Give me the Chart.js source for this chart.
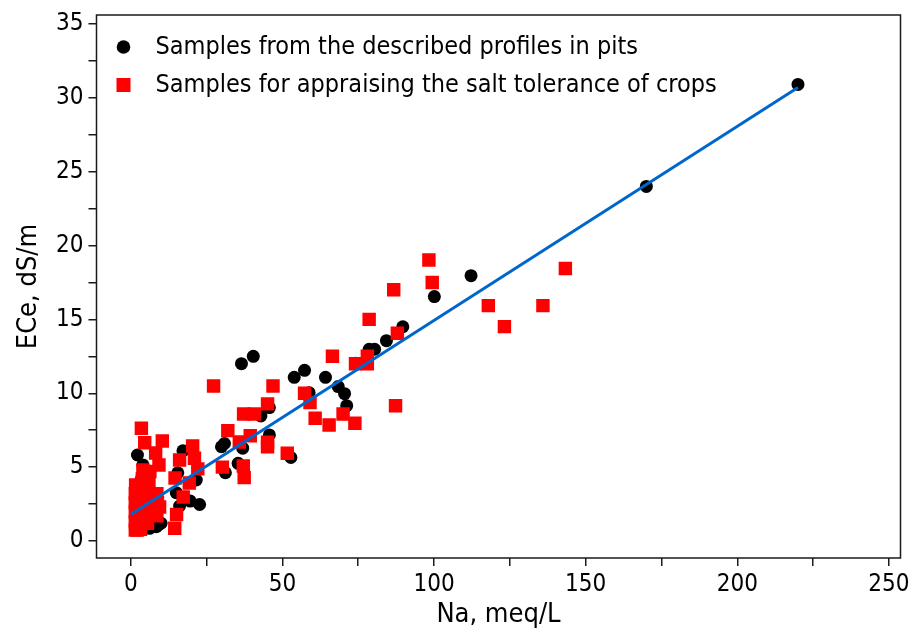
<!DOCTYPE html>
<html>
<head>
<meta charset="utf-8">
<script src="https://cdn.jsdelivr.net/npm/chart.js@4.4.1/dist/chart.umd.min.js"></script>
<style>
  html, body { margin: 0; padding: 0; background: #fff; overflow: hidden; }
  #wrap { position: absolute; left: 0; top: 0; width: 910px; height: 629px; }
</style>
</head>
<body>
<div id="wrap"><canvas id="naChart"></canvas></div>
<script>
// Datos: Na (meq/L) frente a ECe (dS/m)
var pitsNa = [
  220, 170, 112.2, 100.1, 89.7, 84.3, 78.6, 80.4, 74.1, 40.4, 36.5, 57.3,
  53.9, 64.2, 68.4, 70.5, 71.2, 58.8, 45.7, 42.9, 45.7, 30.9, 29.9, 36.9,
  35.4, 52.8, 31.2, 2.2, 17.2, 21.6, 15.5, 15.0, 19.6, 22.7, 16.1, 9.0,
  4.0, 4.0, 6.2, 8.4, 10.0, 2.5, 5.0, 3.5, 7.0, 1.5, 6.0, 8.0,
];
var pitsECe = [
  30.9, 24.0, 17.96, 16.54, 14.5, 13.56, 12.98, 12.98, 12.03, 12.5, 12.0, 11.55,
  11.08, 11.08, 10.45, 9.97, 9.16, 10.04, 9.03, 8.46, 7.18, 6.6, 6.38, 6.28,
  5.26, 5.65, 4.62, 5.82, 6.11, 4.13, 4.62, 3.27, 2.7, 2.47, 2.37, 1.08,
  0.97, 5.15, 0.86, 0.97, 1.2, 3.0, 2.0, 4.2, 1.5, 1.5, 3.5, 2.5,
];

var cropsNa = [
  143.3, 117.9, 135.9, 123.2, 98.3, 99.4, 86.7, 78.6, 87.9, 66.5, 74.1, 78.0,
  78.0, 27.3, 46.9, 57.3, 59.1, 45.1, 87.3, 37.2, 40.7, 60.8, 70.0, 65.4,
  73.9, 32.0, 39.4, 35.8, 45.1, 45.1, 51.6, 37.1, 37.4, 30.2, 3.5, 10.4,
  4.6, 8.2, 20.4, 16.1, 21.0, 22.1, 9.3, 14.6, 19.3, 17.3, 15.1, 14.5,
  9.5, 1.5, 1.5, 1.5, 1.5, 1.5, 1.6, 3.2, 3.5, 3.4, 3.6, 3.8,
  4.0, 5.5, 5.6, 5.8, 6.0, 6.3, 7.2, 7.5, 8.6, 8.8, 8.6, 2.2,
];
var cropsECe = [
  18.44, 15.93, 15.93, 14.51, 19.02, 17.49, 17.0, 15.0, 14.06, 12.5, 12.0, 12.5,
  12.0, 10.49, 10.49, 10.0, 9.37, 9.28, 9.16, 8.6, 8.6, 8.31, 8.6, 7.85,
  7.97, 7.47, 7.13, 6.7, 6.68, 6.38, 5.94, 5.08, 4.29, 5.0, 7.63, 6.77,
  6.65, 5.96, 6.43, 5.48, 5.6, 4.88, 5.15, 4.27, 3.93, 2.98, 1.8, 0.86,
  2.3, 0.75, 1.3, 2.0, 2.6, 3.2, 3.8, 0.8, 1.6, 2.4, 3.3, 4.2,
  4.8, 1.2, 2.1, 3.0, 3.9, 4.7, 1.9, 2.8, 1.7, 2.6, 3.2, 0.75,
];

// Recta de ajuste
var fitNa = [0, 220];
var fitECe = [1.8, 30.7];

var naTicks = [0, 25, 50, 75, 100, 125, 150, 175, 200, 225, 250];
var naLabels = [0, 50, 100, 150, 200, 250];
var eceTicks = [0, 2.5, 5, 7.5, 10, 12.5, 15, 17.5, 20, 22.5, 25, 27.5, 30, 32.5, 35];
var eceLabels = [0, 5, 10, 15, 20, 25, 30, 35];

var FONT = '"DejaVu Sans Condensed", "DejaVu Sans", sans-serif';

function toPoints(xs, ys) {
  return xs.map(function (x, i) {
    return { x: x, y: ys[i] };
  });
}

// Marco alrededor del área del gráfico
var frameBox = {
  id: "frameBox",
  afterDraw: function (chart) {
    var a = chart.chartArea;
    var ctx = chart.ctx;
    ctx.save();
    ctx.strokeStyle = "#1a1a1a";
    ctx.lineWidth = 1.5;
    ctx.strokeRect(a.left, a.top, a.right - a.left, a.bottom - a.top);
    ctx.restore();
  },
};

// Leyenda dentro del área, como en la figura original
var innerLegend = {
  id: "innerLegend",
  afterDraw: function (chart) {
    var a = chart.chartArea;
    var ctx = chart.ctx;
    var y = a.top + 32;
    var items = chart.data.datasets
      .filter(function (ds) {
        return ds.legendRank;
      })
      .sort(function (p, q) {
        return p.legendRank - q.legendRank;
      });
    ctx.save();
    ctx.font = "25px " + FONT;
    ctx.textBaseline = "middle";
    items.forEach(function (ds) {
      var cx = a.left + 27;
      ctx.fillStyle = ds.backgroundColor;
      if (ds.pointStyle === "rect") {
        ctx.fillRect(cx - 7, y - 7, 14, 14);
      } else {
        ctx.beginPath();
        ctx.arc(cx, y, 6.8, 0, Math.PI * 2);
        ctx.fill();
      }
      ctx.fillStyle = "#000";
      ctx.fillText(ds.label, a.left + 59, y);
      y += 38;
    });
    ctx.restore();
  },
};

var ctx = document.getElementById("naChart").getContext("2d");
var naChart = new Chart(ctx, {
  type: "scatter",
  data: {
    datasets: [
      {
        label: "Regression",
        data: toPoints(fitNa, fitECe),
        showLine: true,
        borderColor: "#0066cc",
        backgroundColor: "#0066cc",
        borderWidth: 3,
        pointRadius: 0,
        order: 0,
      },
      {
        label: "Samples for appraising the salt tolerance of crops",
        data: toPoints(cropsNa, cropsECe),
        pointStyle: "rect",
        pointRadius: 9.5,
        backgroundColor: "#ff0000",
        borderColor: "#ff0000",
        borderWidth: 0,
        legendRank: 2,
        order: 1,
      },
      {
        label: "Samples from the described profiles in pits",
        data: toPoints(pitsNa, pitsECe),
        pointStyle: "circle",
        pointRadius: 6.5,
        backgroundColor: "#000000",
        borderColor: "#000000",
        borderWidth: 0,
        legendRank: 1,
        order: 2,
      },
    ],
  },
  options: {
    responsive: true,
    maintainAspectRatio: false,
    animation: false,
    layout: {
      padding: { top: 15, right: 6, bottom: 0, left: 0 },
    },
    scales: {
      x: {
        type: "linear",
        min: -11.3,
        max: 253.8,
        afterBuildTicks: function (scale) {
          scale.ticks = naTicks.map(function (v) {
            return { value: v };
          });
        },
        afterFit: function (scale) {
          scale.height = 71;
          scale.paddingLeft = 0;
          scale.paddingRight = 0;
        },
        border: { display: false },
        grid: {
          drawOnChartArea: false,
          drawTicks: true,
          tickLength: 8,
          color: "#1a1a1a",
          lineWidth: 1.5,
        },
        ticks: {
          autoSkip: false,
          maxRotation: 0,
          padding: 4,
          color: "#000",
          font: { family: FONT, size: 24 },
          callback: function (value) {
            return naLabels.indexOf(value) >= 0 ? value : "";
          },
        },
        title: {
          display: true,
          text: "Na, meq/L",
          color: "#000",
          font: { family: FONT, size: 27, lineHeight: 1.04 },
          padding: { top: 0, bottom: 0 },
        },
      },
      y: {
        type: "linear",
        min: -1.15,
        max: 35.6,
        afterBuildTicks: function (scale) {
          scale.ticks = eceTicks.map(function (v) {
            return { value: v };
          });
        },
        afterFit: function (scale) {
          scale.width = 96.5;
          scale.paddingTop = 0;
          scale.paddingBottom = 0;
        },
        border: { display: false },
        grid: {
          drawOnChartArea: false,
          drawTicks: true,
          tickLength: 8,
          color: "#1a1a1a",
          lineWidth: 1.5,
        },
        ticks: {
          autoSkip: false,
          padding: 5,
          color: "#000",
          font: { family: FONT, size: 24 },
          callback: function (value) {
            return eceLabels.indexOf(value) >= 0 ? value : "";
          },
        },
        title: {
          display: true,
          text: "ECe, dS/m",
          color: "#000",
          font: { family: FONT, size: 27 },
          padding: { top: 13, bottom: 0 },
        },
      },
    },
    plugins: {
      legend: { display: false },
      tooltip: { enabled: false },
    },
  },
  plugins: [frameBox, innerLegend],
});
</script>
</body>
</html>
